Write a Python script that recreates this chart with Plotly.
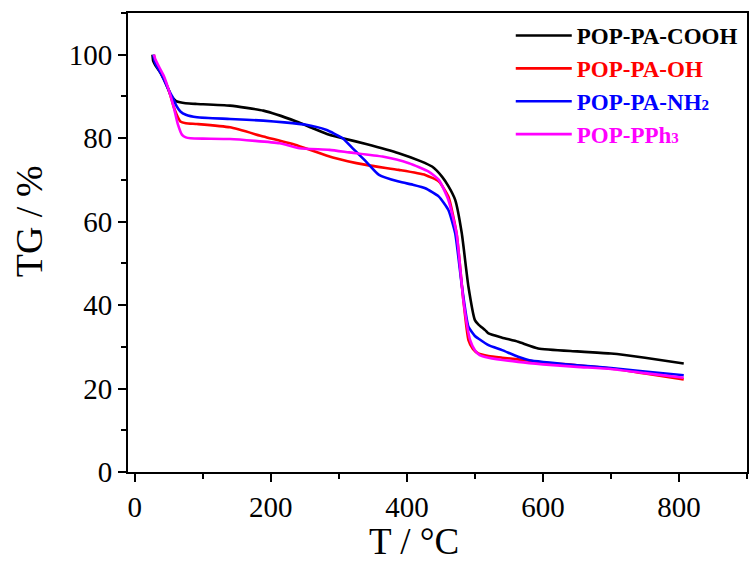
import plotly.graph_objects as go

# ---------------- data ----------------
series_labels = ["POP-PA-COOH", "POP-PA-OH", "POP-PA-NH", "POP-PPh"]
series_subs = ["", "", "2", "3"]
series_colors = ["#000000", "#FF0000", "#0000FF", "#FF00FF"]

T_cooh = [26, 27, 30, 38, 45, 52.5, 58, 62, 70, 80, 91.5, 140, 189, 237.5, 260, 286, 305.6, 340, 388, 420,
          437, 451.6, 461, 471, 480.7, 490.5, 500, 505, 515, 520, 540, 563.5, 593, 650, 700, 750, 807]
TG_cooh = [100, 98.5, 97.5, 95.6, 93.5, 90.4, 89.3, 88.8, 88.5, 88.3, 88.2, 87.8, 86.6, 84, 82.5, 80.8, 80, 78.6,
           76.4, 74.5, 73.2, 70.8, 68.5, 65.2, 57.2, 44.4, 36.4, 35.4, 34, 33.2, 32.2, 31.2, 29.6, 28.9, 28.4, 27.4, 26]

T_oh = [28, 30, 40, 50, 57, 62, 67, 75, 91.5, 140, 189, 240, 291, 340, 388, 427, 447, 461, 473, 483, 490.5,
        497, 505, 520, 540, 563.5, 600, 650, 700, 750, 807]
TG_oh = [100, 98.5, 95, 91.5, 87.6, 85.5, 84, 83.6, 83.4, 82.6, 80.4, 78.2, 75.4, 73.6, 72.4, 71.2, 69.6, 66,
         57.2, 41.2, 31.6, 29.5, 28.4, 27.8, 27.4, 27, 26.2, 25.6, 24.8, 23.6, 22.2]

T_nh2 = [27, 30, 40, 50, 55, 61, 67, 75, 91.5, 140, 189, 220, 252, 281, 305.6, 320, 340, 359, 388, 410, 427,
         447, 461, 471, 481, 490.5, 500, 505, 520, 540, 563.5, 580, 650, 700, 750, 807]
TG_nh2 = [100, 98, 95, 91.5, 90, 87.8, 86.4, 85.6, 85, 84.6, 84.2, 83.8, 83.2, 82, 80, 77.6, 74.4, 71.2, 69.6,
          68.8, 68, 66, 62.8, 57.2, 44.4, 34.8, 32.6, 32, 30.4, 29.2, 27.6, 26.8, 25.6, 24.9, 24.1, 23.2]

T_pph3 = [28, 30, 36, 43, 50, 57, 63, 69.5, 75, 82, 100, 140, 213, 242, 286, 315, 364, 403, 432, 447, 461, 473,
          483, 493, 500, 507, 520, 563.5, 600, 650, 700, 750, 807]
TG_pph3 = [100, 99, 97, 94.8, 91.5, 87.6, 83.5, 80.8, 80.2, 80, 79.9, 79.8, 78.8, 77.6, 77.2, 76.6, 75.6, 74, 72,
           70, 65.2, 57.2, 41.2, 31.6, 29.2, 28, 27.4, 26.4, 25.8, 25.2, 24.7, 23.7, 22.6]

x_title = "T / °C"
y_title = "TG / %"

# ---------------- figure ----------------
FONT = "Liberation Serif, Times New Roman, serif"
fig = go.Figure()
for label, sub, color, xs, ys in zip(series_labels, series_subs, series_colors,
                                     [T_cooh, T_oh, T_nh2, T_pph3],
                                     [TG_cooh, TG_oh, TG_nh2, TG_pph3]):
    name = f"<span style='color:{color}'>{label}</span>"
    if sub:
        name += f"<span style='color:{color};font-size:15px'>{sub}</span>"
    fig.add_trace(go.Scatter(x=xs, y=ys, mode="lines", name=name,
                             line=dict(color=color, width=2.6, shape="spline", smoothing=0.5)))

axis_common = dict(showline=True, linecolor="black", linewidth=2, mirror=True,
                   ticks="outside", tickcolor="black", tickwidth=2, ticklen=8,
                   tickfont=dict(family=FONT, size=29, color="black"),
                   showgrid=False, zeroline=False)

W, H = 751, 561
l, r, t, b = 128, 2, 13, 89
pw, ph = W - l - r, H - t - b
def px2paper(px, py):
    return (px - l) / pw, (H - b - py) / ph

ax, ay = px2paper(415, 541)
bx, by = px2paper(29, 221)
lx, ly = px2paper(512, 14)

fig.update_layout(
    width=W, height=H,
    margin=dict(l=l, r=r, t=t, b=b),
    paper_bgcolor="white", plot_bgcolor="white",
    xaxis=dict(range=[-10, 900], dtick=200, tick0=0,
               minor=dict(dtick=100, ticklen=5, tickcolor="black", tickwidth=2, ticks="outside"),
               **axis_common),
    yaxis=dict(range=[0, 110], dtick=20, tick0=0,
               minor=dict(dtick=10, ticklen=5, tickcolor="black", tickwidth=2, ticks="outside"),
               **axis_common),
    xaxis2=dict(overlaying="x", side="top", matches="x", range=[-10, 900], dtick=100, tick0=0,
                ticks="inside", ticklen=4, tickwidth=2, tickcolor="black", showticklabels=False,
                showgrid=False, zeroline=False, showline=False),
    showlegend=True,
    legend=dict(x=lx, y=ly, xanchor="left", yanchor="top",
                bgcolor="rgba(0,0,0,0)", borderwidth=0,
                font=dict(family=FONT, size=23, color="black", weight="bold"),
                tracegroupgap=0, itemwidth=56),
)
fig.add_annotation(text=x_title, x=ax, y=ay, xref="paper", yref="paper", showarrow=False,
                   xanchor="center", yanchor="middle", font=dict(family=FONT, size=37, color="black"))
fig.add_annotation(text=y_title, x=bx, y=by, xref="paper", yref="paper", showarrow=False, textangle=-90,
                   xanchor="center", yanchor="middle", font=dict(family=FONT, size=38, color="black"))

fig.write_html("out.html")
